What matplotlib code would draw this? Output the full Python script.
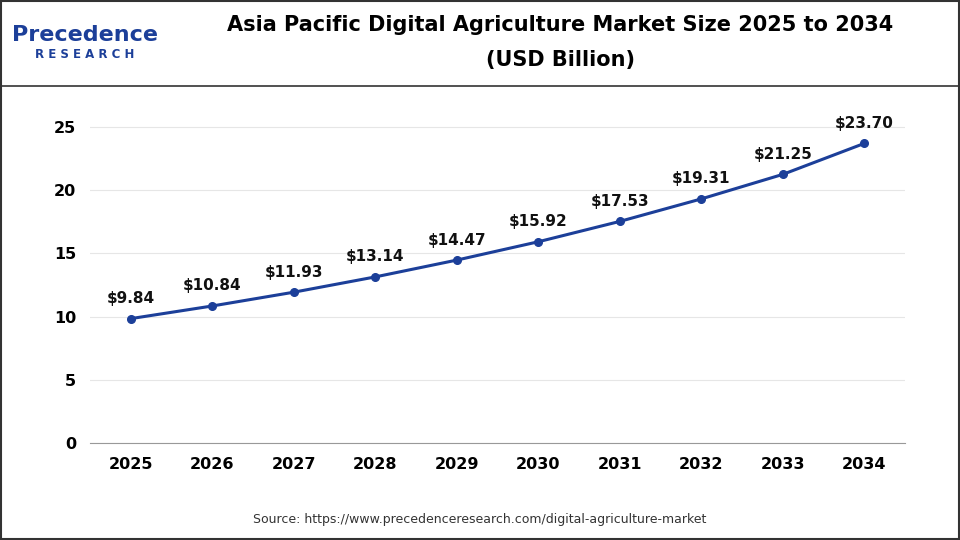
import matplotlib
matplotlib.use("Agg")
import matplotlib.pyplot as plt
from matplotlib.lines import Line2D
from matplotlib.patches import Rectangle

years = ["2025","2026","2027","2028","2029","2030","2031","2032","2033","2034"]
values = [9.84,10.84,11.93,13.14,14.47,15.92,17.53,19.31,21.25,23.70]
yticks = [0,5,10,15,20,25]

fig = plt.figure(figsize=(9.6,5.4), dpi=100)
fig.patch.set_facecolor("white")
ax = fig.add_axes([90/960, 1-443/540, (905-90)/960, (443-100)/540])
x = list(range(len(years)))
ax.plot(x, values, color="#1c3f99", lw=2.2, marker="o", ms=5.5, zorder=3)
for xi, v in zip(x, values):
    ax.annotate(f"${v:.2f}", (xi, v), xytext=(0, 9), textcoords="offset points",
                ha="center", va="bottom", fontsize=11, fontweight="bold", color="#111")
ax.set_xlim(-0.5, len(years)-0.5)
ax.set_ylim(0, 25*343/316)
ax.set_yticks(yticks)
ax.set_xticks(x)
ax.set_xticklabels(years)
ax.grid(axis="y", color="#e6e6e6", lw=0.8)
ax.set_axisbelow(True)
for s in ["top","right","left"]:
    ax.spines[s].set_visible(False)
ax.spines["bottom"].set_color("#999")
ax.tick_params(length=0, labelsize=11.5, pad=10)
for t in ax.get_xticklabels()+ax.get_yticklabels():
    t.set_fontweight("bold")

fig.text(560/960, 1-25/540, "Asia Pacific Digital Agriculture Market Size 2025 to 2034",
         ha="center", va="center", fontsize=15, fontweight="bold")
fig.text(560/960, 1-60/540, "(USD Billion)", ha="center", va="center", fontsize=15, fontweight="bold")
fig.text(85/960, 1-35/540, "Precedence", ha="center", va="center", fontsize=16, fontweight="bold", color="#1c3f99")
fig.text(85/960, 1-55/540, "R E S E A R C H", ha="center", va="center", fontsize=8.5, fontweight="bold", color="#1c3f99")
fig.text(480/960, 1-519/540, "Source: https://www.precedenceresearch.com/digital-agriculture-market",
         ha="center", va="center", fontsize=9, color="#333")
fig.add_artist(Line2D([0,1],[1-86/540,1-86/540], color="#333", lw=1.2))
fig.add_artist(Rectangle((0.001,0.001),0.998,0.998, fill=False, ec="#333", lw=1.5, transform=fig.transFigure))
fig.savefig("out.png", dpi=100)
